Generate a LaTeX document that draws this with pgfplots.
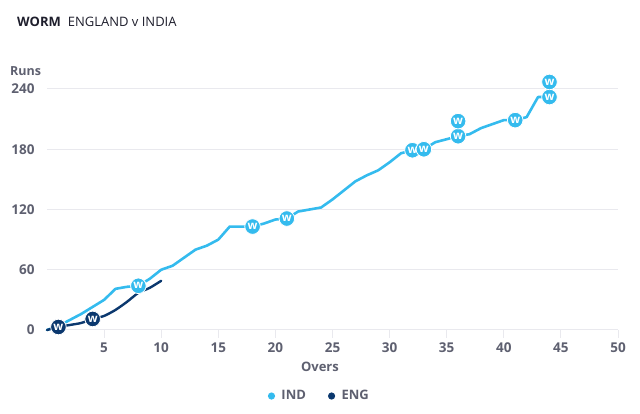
\documentclass[border=0pt]{standalone}
\usepackage{fontspec}
\setmainfont{Open Sans}
\usepackage{pgfplots}
\pgfplotsset{compat=1.18}

\definecolor{indblue}{HTML}{34BBEE}
\definecolor{engnavy}{HTML}{0B386E}
\definecolor{labelgray}{HTML}{5E6070}
\definecolor{titleink}{HTML}{1E1E2C}
\definecolor{gridgray}{HTML}{E9E9EE}

% wicket marker: filled disc with a white "w"
\pgfdeclareplotmark{wicket}{%
  \pgfpathcircle{\pgfpointorigin}{7.8pt}%
  \pgfusepathqfillstroke
  \pgftext{\color{white}\fontsize{11.5}{11.5}\selectfont\bfseries w}%
}

\pgfplotstableread{
over runs
0 0
1 4
2 10
3 16
4 23
5 30
6 41
7 43
8 44
9 51
10 60
11 64
12 72
13 80
14 84
15 90
16 103
17 103
18 103
19 106
20 110
21 111
22 118
23 120
24 122
25 130
26 139
27 148
28 154
29 159
30 167
31 176
32 179
33 180
34 187
35 190
36 193
37 195
38 201
39 205
40 209
41 209
42 212
43 232
44 232
}\indtable

\pgfplotstableread{
over runs
0 0
1 3
2 5
3 7
4 11
5 14
6 20
7 28
8 37
9 42
10 49
}\engtable

% wickets (a second wicket in the same over is stacked above the first)
\pgfplotstableread{
over runs
8 44
18 103
21 111
32 179
33 180
36 193
36 208
41 209
44 232
44 247
}\indwkts

\pgfplotstableread{
over runs
1 3
4 11
}\engwkts

\begin{document}
\begin{tikzpicture}
\useasboundingbox (0,0) rectangle (640pt,414pt);
\node[anchor=base west, text=titleink, font=\fontsize{13}{15}\selectfont, inner sep=0pt]
  at (17pt,387pt) {\bfseries WORM\hspace{7pt}\mdseries ENGLAND v INDIA};
\node[anchor=base west, text=labelgray, font=\fontsize{12.5}{14}\selectfont\bfseries, inner sep=0pt]
  at (10pt,338pt) {Runs};
\begin{axis}[
  at={(47pt,84pt)}, anchor=south west,
  scale only axis, width=571pt, height=241pt,
  xmin=0, xmax=50, ymin=0, ymax=240,
  clip=false,
  axis line style={draw=none},
  xtick={5,10,...,50},
  ytick={0,60,...,240},
  ymajorgrids,
  grid style={gridgray, line width=1pt},
  tick pos=left,
  tick align=outside,
  major tick length=8pt,
  xtick style={draw=gridgray, line width=1pt},
  ytick style={draw=none},
  /pgf/number format/assume math mode=true,
  tick label style={font=\fontsize{13.5}{15}\selectfont\bfseries, text=labelgray},
  xticklabel style={anchor=north, yshift=-1pt},
  yticklabel style={anchor=east, xshift=-1pt},
  xlabel={Overs},
  xlabel style={at={(axis description cs:0.478,-0.153)}, anchor=center,
    font=\fontsize{13}{15}\selectfont\bfseries, text=labelgray},
  legend style={at={(axis description cs:0.477,-0.274)}, anchor=center,
    draw=none, fill=none, font=\fontsize{13}{15}\selectfont\bfseries, text=labelgray,
    /tikz/every even column/.append style={column sep=20pt}},
  legend columns=2,
]
\addplot[indblue, line width=2.6pt, line join=round, line cap=round, forget plot]
  table[x=over, y=runs] {\indtable};
\addplot[engnavy, line width=2.4pt, line join=round, line cap=round, smooth, tension=0.4, forget plot]
  table[x=over, y=runs] {\engtable};
\addplot[only marks, mark=wicket, mark options={fill=indblue, draw=white, line width=0.8pt}, forget plot]
  table[x=over, y=runs] {\indwkts};
\addplot[only marks, mark=wicket, mark options={fill=engnavy, draw=white, line width=0.8pt}, forget plot]
  table[x=over, y=runs] {\engwkts};
\addlegendimage{legend image code/.code={\fill[indblue, draw=none] (0pt,0pt) circle (3.6pt); \path[draw=none, fill=none] (-3.6pt,0pt) rectangle (8pt,0.1pt);}}
\addlegendentry{IND}
\addlegendimage{legend image code/.code={\fill[engnavy, draw=none] (0pt,0pt) circle (3.6pt); \path[draw=none, fill=none] (-3.6pt,0pt) rectangle (8pt,0.1pt);}}
\addlegendentry{ENG}
\end{axis}
\end{tikzpicture}
\end{document}
